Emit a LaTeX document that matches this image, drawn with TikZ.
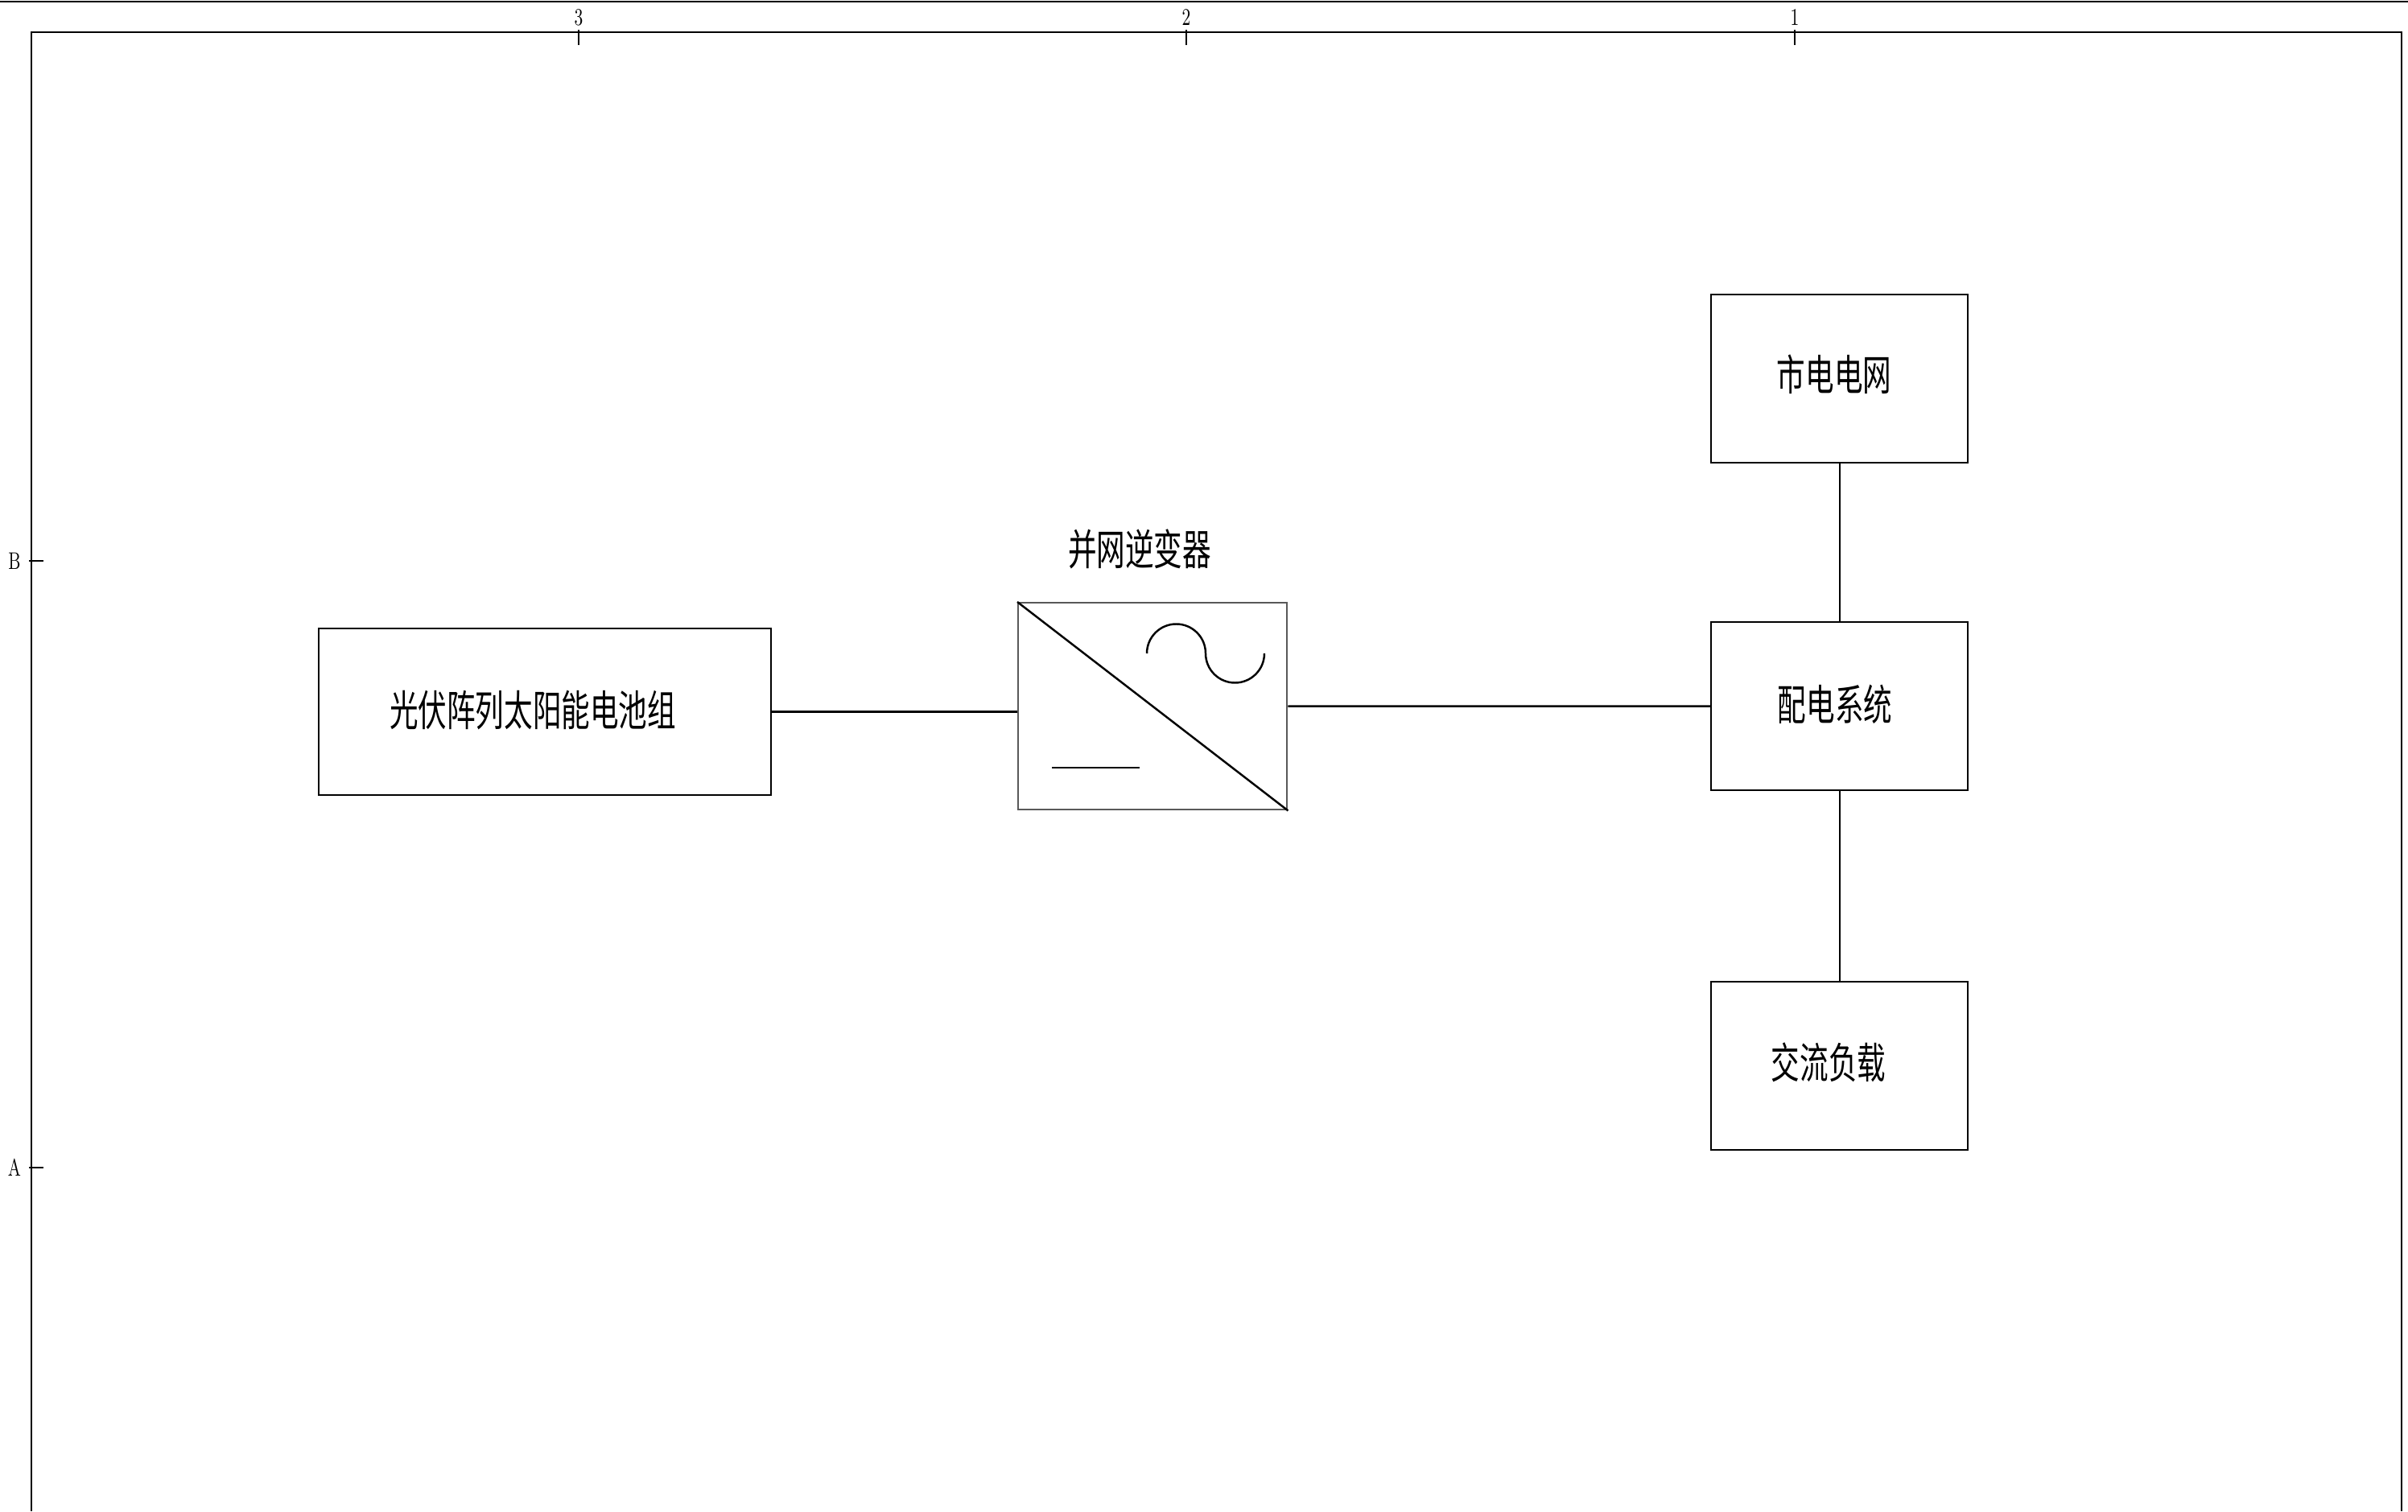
\documentclass[tikz,border=0pt]{standalone}
\usepackage{fontspec}
\newfontfamily\cjk[FakeStretch=0.675]{Noto Sans CJK SC}
\usepackage{tikz}

\tikzset{
	box/.style = {draw, line width = 0.7pt, inner sep = 0pt, anchor = north west},
	caption/.style = {font = \cjk\fontsize{15}{15}\selectfont, inner sep = 0pt},
	tickmark/.style = {font = \fontsize{8.5}{9}\selectfont, inner sep = 0pt}
}

\begin{document}
\begin{tikzpicture}
	 \useasboundingbox (0, 0) rectangle (29.92, 18.78);
	 \draw[line width = 0.7pt] (0, 18.76) -- (29.92, 18.76);
	 \draw[line width = 0.7pt] (0.39, 0) -- (0.39, 18.38) -- (29.84, 18.38) -- (29.84, 0);

	 \foreach \x/\n in {7.19/3, 14.74/2, 22.30/1}
	 \draw[line width = 0.7pt] (\x, 18.41) -- (\x, 18.22) (\x, 18.56) node[tickmark] (col\n) {\scalebox{0.7}[1]{\n}};
	 \foreach \y/\n in {11.81/B, 4.27/A}
	 \draw[line width = 0.7pt] (0.36, \y) -- (0.54, \y) (0.18, \y) node[tickmark] (row\n) {\scalebox{0.7}[1]{\n}};

	 \node[box, minimum width = 5.62 cm, minimum height = 2.07 cm] (pvarray) at (3.95, 10.98) {};
	 \node[box, draw = black!65, minimum width = 3.34 cm, minimum height = 2.57 cm] (inverter) at (12.64, 11.30) {};
	 \node[box, minimum width = 3.19 cm, minimum height = 2.09 cm] (citygrid) at (21.25, 15.13) {};
	 \node[box, minimum width = 3.19 cm, minimum height = 2.09 cm] (distsys) at (21.25, 11.06) {};
	 \node[box, minimum width = 3.19 cm, minimum height = 2.09 cm] (acload) at (21.25, 6.59) {};

	 \node[caption] (pvtext) at (6.62, 9.95) {\cjk 光伏阵列太阳能电池组};
	 \node[caption] (invtext) at (14.16, 11.96) {\cjk 并网逆变器};
	 \node[caption] (gridtext) at (22.79, 14.13) {\cjk 市电电网};
	 \node[caption] (disttext) at (22.80, 10.03) {\cjk 配电系统};
	 \node[caption] (loadtext) at (22.72, 5.58) {\cjk 交流负载};

	 \draw[line width = 0.7pt] (pvarray.east) -- (pvarray.east -| inverter.west);
	 \draw[line width = 0.7pt] (inverter.east) -- (distsys.west);
	 \draw[line width = 0.7pt] (citygrid.south) -- (distsys.north);
	 \draw[line width = 0.7pt] (distsys.south) -- (acload.north);

	 \draw[line width = 0.7pt] (inverter.north west) -- (inverter.south east);
	 \draw[line width = 0.7pt] (13.07, 9.24) -- (14.16, 9.24);
	 \draw[line width = 0.7pt] (14.25, 10.66) arc (180 : 0 : 0.365) arc (180 : 360 : 0.365);
\end{tikzpicture}
\end{document}
